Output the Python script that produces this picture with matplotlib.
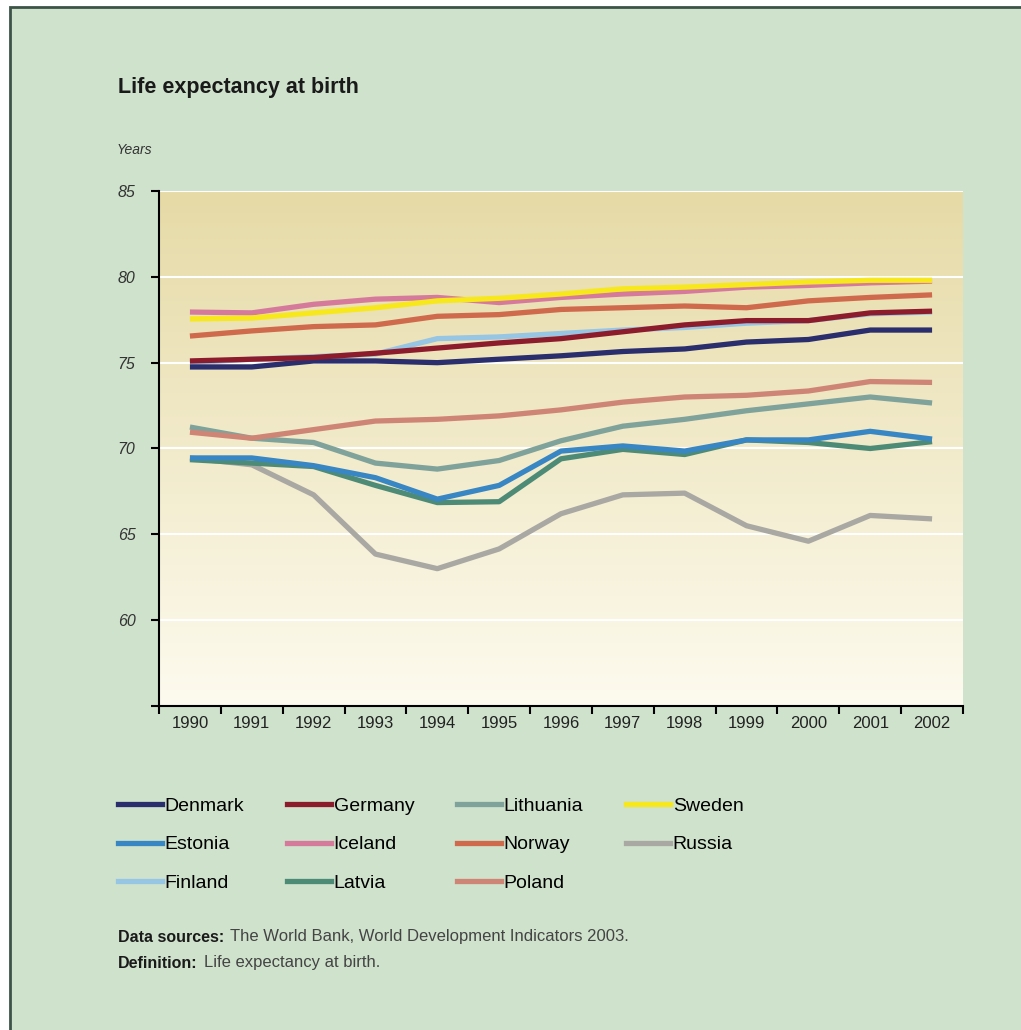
import numpy as np
import matplotlib
matplotlib.use("Agg")
import matplotlib.pyplot as plt
from matplotlib.patches import Rectangle
from matplotlib.lines import Line2D
from matplotlib.colors import to_rgb

# Données
annees = list(range(1990, 2003))

denmark   = [74.75, 74.75, 75.1, 75.1, 75.0, 75.2, 75.4, 75.65, 75.8, 76.2, 76.35, 76.9, 76.9]
germany   = [75.1, 75.2, 75.3, 75.55, 75.85, 76.15, 76.4, 76.8, 77.2, 77.45, 77.45, 77.9, 78.0]
lithuania = [71.25, 70.6, 70.35, 69.15, 68.8, 69.3, 70.45, 71.3, 71.7, 72.2, 72.6, 73.0, 72.65]
sweden    = [77.55, 77.6, 77.9, 78.2, 78.6, 78.75, 79.0, 79.3, 79.4, 79.55, 79.7, 79.8, 79.8]
estonia   = [69.45, 69.45, 69.0, 68.3, 67.05, 67.85, 69.85, 70.15, 69.85, 70.5, 70.5, 71.0, 70.55]
iceland   = [77.95, 77.9, 78.4, 78.7, 78.8, 78.5, 78.8, 79.0, 79.15, 79.4, 79.5, 79.65, 79.75]
norway    = [76.55, 76.85, 77.1, 77.2, 77.7, 77.8, 78.1, 78.2, 78.3, 78.2, 78.6, 78.8, 78.95]
russia    = [69.45, 69.05, 67.3, 63.85, 63.0, 64.15, 66.2, 67.3, 67.4, 65.5, 64.6, 66.1, 65.9]
finland   = [75.0, 75.2, 75.35, 75.5, 76.4, 76.5, 76.7, 76.9, 77.05, 77.3, 77.45, 77.85, 77.95]
latvia    = [69.35, 69.15, 68.95, 67.85, 66.85, 66.9, 69.4, 69.95, 69.65, 70.5, 70.35, 70.0, 70.4]
poland    = [70.95, 70.6, 71.1, 71.6, 71.7, 71.9, 72.25, 72.7, 73.0, 73.1, 73.35, 73.9, 73.85]

series = {
    "Russia": (russia, "#a9a8a3"),
    "Lithuania": (lithuania, "#7fa39b"),
    "Latvia": (latvia, "#4e8b77"),
    "Estonia": (estonia, "#3886c3"),
    "Poland": (poland, "#cf8575"),
    "Finland": (finland, "#97c5e4"),
    "Denmark": (denmark, "#2a2e6c"),
    "Germany": (germany, "#8c1c2c"),
    "Norway": (norway, "#cf6a4d"),
    "Iceland": (iceland, "#d67a9c"),
    "Sweden": (sweden, "#f6e81c"),
}
ordre_legende = ["Denmark", "Estonia", "Finland", "Germany", "Iceland", "Latvia",
                 "Lithuania", "Norway", "Poland", "Sweden", "Russia"]

narrow = ["Liberation Sans Narrow", "DejaVu Sans Condensed", "Liberation Sans", "DejaVu Sans"]
sans = ["Liberation Sans", "DejaVu Sans"]
fond = "#cfe2cc"

fig = plt.figure(figsize=(10.21, 10.30), dpi=100, facecolor="white")
fig.patches.append(Rectangle((10/1021, -0.02), 1.05, 1 - 7/1030 + 0.02, transform=fig.transFigure,
                             facecolor=fond, edgecolor="#3c5448", linewidth=2, zorder=-10))

ax = fig.add_axes([159/1021, 1 - 706/1030, (963 - 159)/1021, (706 - 191)/1030])
ax.set_facecolor("none")

# fond en dégradé
haut = np.array(to_rgb("#e6daa6"))
bas = np.array(to_rgb("#fdfbef"))
t = np.linspace(0, 1, 256)[:, None]
grad = (haut * (1 - t) + bas * t)[:, None, :]
ax.imshow(grad, extent=(1989.5, 2002.5, 55, 85), aspect="auto", zorder=0, origin="upper")

for y in [60, 65, 70, 75, 80, 85]:
    ax.axhline(y, color="white", lw=1.5, zorder=1)

for nom, (vals, coul) in series.items():
    ax.plot(annees, vals, color=coul, lw=3.8, solid_capstyle="butt", zorder=3, label=nom)

ax.set_xlim(1989.5, 2002.5)
ax.set_ylim(55, 85)
ax.spines["top"].set_visible(False)
ax.spines["right"].set_visible(False)
ax.spines["left"].set_linewidth(1.5)
ax.spines["bottom"].set_linewidth(1.5)
ax.spines["left"].set_zorder(4)

ax.set_xticks(np.arange(1989.5, 2003, 1))
ax.set_xticklabels([])
ax.set_xticks(annees, minor=True)
ax.set_xticklabels([str(a) for a in annees], minor=True, family=narrow, fontsize=12, color="#222222")
ax.tick_params(axis="x", which="major", direction="out", length=6, width=1.5)
ax.tick_params(axis="x", which="minor", length=0, pad=7)

ax.set_yticks([55, 60, 65, 70, 75, 80, 85])
ax.set_yticklabels(["", "60", "65", "70", "75", "80", "85"], family=narrow, style="italic",
                   fontsize=11.5, color="#333333")
ax.tick_params(axis="y", direction="out", length=6, width=1.5, pad=11)

# textes
fig.text(118/1021, 1 - 87/1030, "Life expectancy at birth", family=sans, weight="bold",
         fontsize=15.5, color="#1a1a1a", va="center")
fig.text(117/1021, 1 - 150/1030, "Years", family=narrow, style="italic", fontsize=10,
         color="#333333", va="center")

poignees = [Line2D([], [], color=series[n][1], lw=3.8) for n in ordre_legende]
fig.legend(poignees, ordre_legende, ncol=4, loc="upper left",
           bbox_to_anchor=(100/1021, 1 - 780/1030), frameon=False,
           prop={"family": narrow, "size": 14}, handlelength=2.3, handletextpad=0.12,
           columnspacing=2.18, labelspacing=1.06)

fig.canvas.draw()
rend = fig.canvas.get_renderer()
for y, gras, texte in [(937, "Data sources:", "The World Bank, World Development Indicators 2003."),
                       (963, "Definition:", "Life expectancy at birth.")]:
    tg = fig.text(118/1021, 1 - y/1030, gras, family=narrow, weight="bold", fontsize=11.5,
                  color="#1a1a1a", va="center")
    bb = tg.get_window_extent(rend)
    fig.text((bb.x1 + 6)/1021, 1 - y/1030, texte, family=narrow, fontsize=12,
             color="#444444", va="center")

fig.savefig("out.png", dpi=100, facecolor=fig.get_facecolor())
